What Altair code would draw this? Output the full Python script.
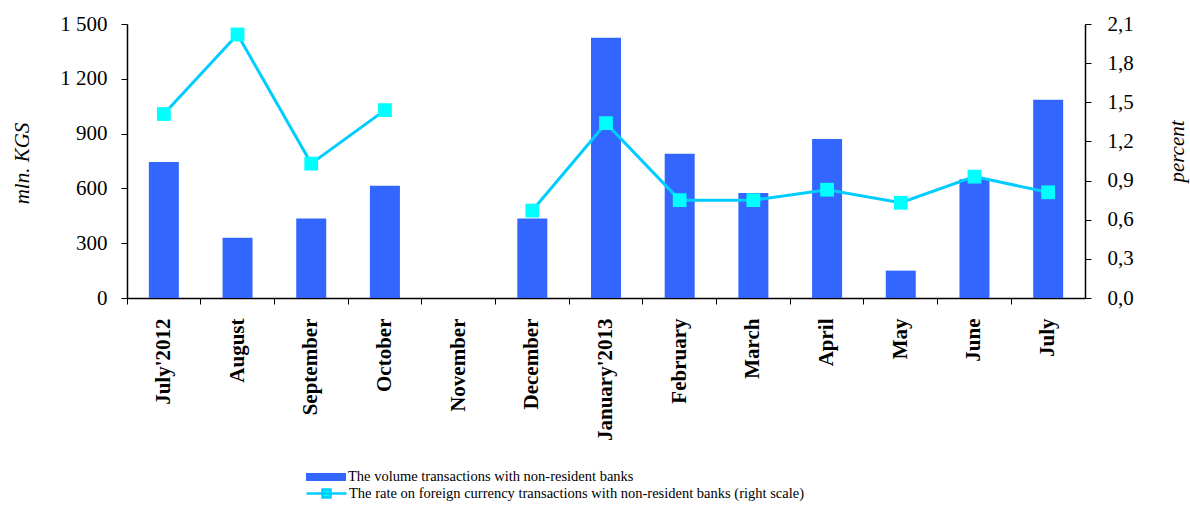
import altair as alt
import pandas as pd

months = ["July'2012", "August", "September", "October", "November", "December",
          "January'2013", "February", "March", "April", "May", "June", "July"]
volume = [745, 330, 435, 615, None, 435, 1425, 790, 575, 870, 150, 650, 1085]
rate = [1.41, 2.02, 1.03, 1.44, None, 0.67, 1.34, 0.75, 0.75, 0.83, 0.73, 0.93, 0.81]

left_ticks = [0, 300, 600, 900, 1200, 1500]
right_ticks = [0.0, 0.3, 0.6, 0.9, 1.2, 1.5, 1.8, 2.1]

vol_label = "The volume transactions with non-resident banks"
rate_label = "The rate on foreign currency  transactions with non-resident banks (right scale)"

df = pd.DataFrame({"month": months, "volume": volume, "rate": rate,
                   "s1": vol_label, "s2": rate_label})

FONT = "Liberation Serif"

x = alt.X("month:N", sort=months,
          scale=alt.Scale(paddingInner=0, paddingOuter=0),
          axis=alt.Axis(title=None, labelAngle=-90, labelFontWeight="bold",
                        labelFontSize=21, bandPosition=0, tickSize=6,
                        labelPadding=14, domainColor="black", tickColor="black",
                        labelColor="black", labelFont=FONT, domainWidth=1.5,
                        grid=False))

bars = alt.Chart(df).mark_bar(size=30).encode(
    x=x,
    y=alt.Y("volume:Q", scale=alt.Scale(domain=[0, 1500], nice=False),
            axis=alt.Axis(values=left_ticks, title="mln. KGS", grid=False,
                          titleFontStyle="italic", titleFontWeight="normal",
                          titleFontSize=21, titleFont=FONT, titleColor="black",
                          titleX=-105, titleY=139, titleAngle=-90,
                          titleAlign="center", titleBaseline="middle",
                          labelExpr="replace(format(datum.value, ',d'), ',', ' ')",
                          labelFontSize=21, labelFont=FONT, labelColor="black",
                          tickSize=6, labelPadding=14, domainColor="black",
                          tickColor="black", domainWidth=1.5)),
    color=alt.Color("s1:N", scale=alt.Scale(domain=[vol_label], range=["#3366FF"]),
                    legend=alt.Legend(title=None, orient="none", legendX=178, legendY=432,
                                      symbolType="M-1,-0.2H1V0.2H-1Z", symbolSize=1600,
                                      symbolOpacity=1,
                                      labelFont=FONT, labelFontSize=14.5, labelColor="black",
                                      labelOffset=1, padding=0, labelLimit=900)),
)

y_rate = alt.Y("rate:Q", scale=alt.Scale(domain=[0, 2.1], nice=False),
               axis=alt.Axis(orient="right", values=right_ticks, title="percent", grid=False,
                             titleFontStyle="italic", titleFontWeight="normal",
                             titleFontSize=21, titleFont=FONT, titleColor="black",
                             titleX=92, titleY=127, titleAngle=-90,
                             titleAlign="center", titleBaseline="middle",
                             labelExpr="replace(format(datum.value, '.1f'), '.', ',')",
                             labelFontSize=21, labelFont=FONT, labelColor="black",
                             tickSize=6, labelPadding=16, domainColor="black",
                             tickColor="black", domainWidth=1.5))

line = alt.Chart(df).mark_line(color="#00CCFF", strokeWidth=3).encode(x=x, y=y_rate)

points = alt.Chart(df).mark_square(size=190, opacity=1, filled=True).encode(
    x=x, y=y_rate,
    color=alt.Color("s2:N", scale=alt.Scale(domain=[rate_label], range=["#00FFFF"]),
                    legend=alt.Legend(title=None, orient="none", legendX=178, legendY=448,
                                      symbolType="M-1,0H1M-0.2,-0.2H0.2V0.2H-0.2Z",
                                      symbolSize=1600, symbolStrokeColor="#00CCFF",
                                      symbolStrokeWidth=2.5, symbolFillColor="#00FFFF",
                                      symbolOpacity=1,
                                      labelFont=FONT, labelFontSize=14.5, labelColor="black",
                                      labelOffset=1, padding=0, labelLimit=900)),
)

rate_layer = alt.layer(line, points)

chart = alt.layer(bars, rate_layer).resolve_scale(
    y="independent", color="independent"
).resolve_legend(color="independent").properties(
    width=958, height=274, autosize="none",
    padding={"left": 127, "top": 24, "right": 105, "bottom": 213},
).configure(font=FONT, background="white").configure_view(stroke=None).configure_axis(grid=False)

chart.save("out.html", embed_options={"renderer": "svg", "actions": False})
